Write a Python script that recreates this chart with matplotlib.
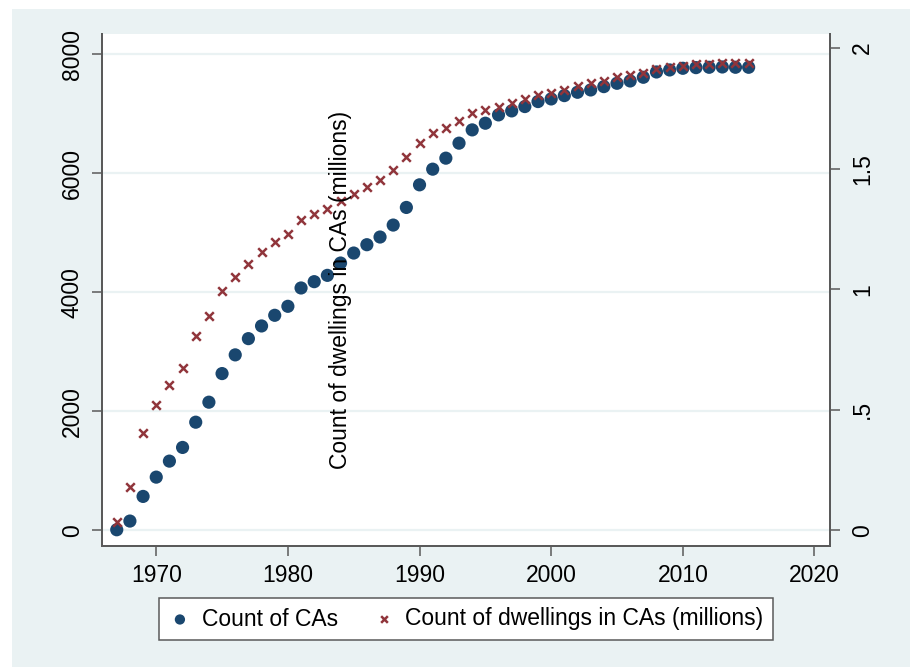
import matplotlib.pyplot as plt
from matplotlib.patches import Rectangle

plt.rcParams['font.family'] = ['Liberation Sans', 'DejaVu Sans']

years = list(range(1967, 2016))
ca_count = [10, 156, 570, 894, 1163, 1393, 1817, 2153, 2634, 2948,
            3221, 3434, 3613, 3764, 4072, 4178, 4284, 4491, 4659, 4799,
            4928, 5129, 5425, 5805, 6068, 6253, 6505, 6728, 6840, 6980,
            7047, 7120, 7204, 7248, 7304, 7360, 7399, 7455, 7511, 7550,
            7612, 7701, 7735, 7763, 7774, 7780, 7785, 7780, 7780]
dwellings = [0.034, 0.179, 0.402, 0.519, 0.602, 0.674, 0.807, 0.890, 0.991, 1.050,
             1.106, 1.155, 1.194, 1.230, 1.288, 1.313, 1.333, 1.364, 1.394, 1.423,
             1.451, 1.495, 1.550, 1.607, 1.648, 1.670, 1.699, 1.729, 1.741, 1.757,
             1.771, 1.788, 1.803, 1.812, 1.826, 1.844, 1.854, 1.865, 1.879, 1.888,
             1.898, 1.913, 1.920, 1.927, 1.934, 1.934, 1.936, 1.936, 1.936]

left_ticks = [0, 2000, 4000, 6000, 8000]
right_ticks = [0, 0.5, 1, 1.5, 2]
right_labels = ['0', '.5', '1', '1.5', '2']
x_ticks = [1970, 1980, 1990, 2000, 2010, 2020]

bg = '#EAF2F3'
blue = '#1A476F'
red = '#90353B'
spine = '#5a5a5a'
fs = 16.5

fig = plt.figure(figsize=(9.1, 6.67), dpi=100, facecolor='white')
fig.patches.append(Rectangle((12 / 910, 0), 1 - 12 / 910, (667 - 9) / 667,
                             transform=fig.transFigure, facecolor=bg,
                             edgecolor='none', zorder=-10))

ax = fig.add_axes([102 / 910, 1 - 546 / 667, (830 - 102) / 910, (546 - 34) / 667])
ax.set_facecolor('white')
ax2 = ax.twinx()

h1 = ax.scatter(years, ca_count, s=90, color=blue, edgecolors='none',
                label='Count of CAs', zorder=3)
h2 = ax2.scatter(years, dwellings, s=38, marker='x', color=red, linewidths=1.8,
                 label='Count of dwellings in CAs (millions)', zorder=4)

ax.set_xlim(1965.88, 2021.18)
ax.set_ylim(-263, 8339)
ax2.set_ylim(-0.065, 2.058)

ax.set_xticks(x_ticks)
ax.set_yticks(left_ticks)
ax2.set_yticks(right_ticks)
ax2.set_yticklabels(right_labels)

ax.yaxis.grid(True, color=bg, linewidth=1.6)
ax.set_axisbelow(True)

for a in (ax, ax2):
    a.spines['top'].set_visible(False)
    for s in ('left', 'right', 'bottom'):
        a.spines[s].set_color(spine)
        a.spines[s].set_linewidth(1.4)
    a.tick_params(colors=spine, labelcolor='black', labelsize=fs,
                  length=7, width=1.1)

ax.tick_params(axis='x', pad=6)
ax.tick_params(axis='y', pad=6)
ax2.tick_params(axis='y', pad=8)
for lbl in ax.get_yticklabels() + ax2.get_yticklabels():
    lbl.set_rotation(90)
    lbl.set_va('center')

fig.text(341 / 910, 1 - 290 / 667, 'Count of dwellings in CAs (millions)',
         rotation=90, ha='center', va='center', fontsize=fs)

leg = fig.legend(handles=[h1, h2], loc='center', ncol=2,
                 bbox_to_anchor=(466 / 910, 1 - 619 / 667),
                 fontsize=fs, frameon=True, fancybox=False, framealpha=1,
                 edgecolor=spine, handletextpad=0.45, columnspacing=1.5,
                 handlelength=1.0, borderpad=0.4, markerscale=0.78)
leg.get_frame().set_linewidth(1.1)

fig.savefig('out.png', dpi=100)
